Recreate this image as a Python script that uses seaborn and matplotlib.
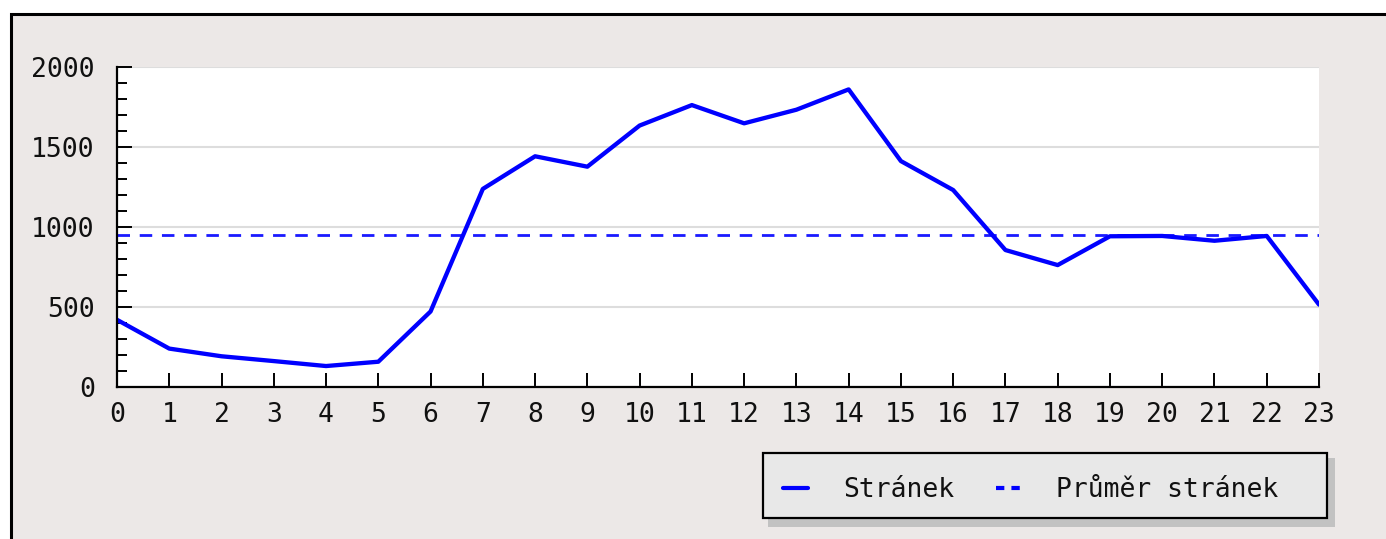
import matplotlib
matplotlib.use("Agg")
import matplotlib.pyplot as plt
import seaborn as sns
import pandas as pd
from matplotlib.patches import Rectangle
from matplotlib.lines import Line2D
from matplotlib.ticker import MultipleLocator

hours = list(range(24))
pages = [420, 240, 192, 162, 131, 158, 472, 1238, 1442, 1377, 1634, 1762,
         1648, 1733, 1860, 1412, 1231, 856, 762, 942, 944, 914, 944, 515]
avg_pages = 953
series_labels = ["Stránek", "Průměr stránek"]
y_ticks = [0, 500, 1000, 1500, 2000]

sns.set_theme(style="white")
plt.rcParams['font.family'] = ['DejaVu Sans Mono', 'DejaVu Sans']

W, H = 1386, 539
fig = plt.figure(figsize=(W / 100, H / 100), dpi=100, facecolor="white")

# outer panel with black top/left border
panel = Rectangle((10.5 / W, -0.05), 1.1, 1 - 13.5 / H + 0.05,
                  transform=fig.transFigure, facecolor="#ece8e7",
                  edgecolor="black", linewidth=2.2, zorder=0)
fig.add_artist(panel)

ax = fig.add_axes([117 / W, 1 - 387 / H, (1319 - 117) / W, (387 - 67) / H])
ax.set_facecolor("white")

df = pd.DataFrame({"hour": hours, "pages": pages})
sns.lineplot(data=df, x="hour", y="pages", ax=ax, color="#0000ff",
             linewidth=3.1, label=series_labels[0], legend=False, zorder=3)
ax.axhline(avg_pages, color="#1a1aff", linewidth=2.0,
           linestyle=(0, (4.5, 3.5)), zorder=2, label=series_labels[1])

ax.set_xlim(0, 23)
ax.set_ylim(0, 2000)
ax.set_xticks(hours)
ax.set_yticks(y_ticks)
ax.yaxis.set_minor_locator(MultipleLocator(100))
ax.set_xlabel("")
ax.set_ylabel("")

ax.grid(axis="y", which="major", color="#dddddd", linewidth=1.5, zorder=1)
ax.grid(axis="x", visible=False)
ax.set_axisbelow(True)

for s in ["top", "right"]:
    ax.spines[s].set_visible(False)
for s in ["left", "bottom"]:
    ax.spines[s].set_color("black")
    ax.spines[s].set_linewidth(1.6)
    ax.spines[s].set_zorder(4)

ax.tick_params(axis="y", which="major", direction="in", length=10.8, width=1.4,
               color="black", pad=16, labelsize=19, labelcolor="#111111", left=True)
ax.tick_params(axis="y", which="minor", direction="in", length=7.2, width=1.4,
               color="black", left=True)
ax.tick_params(axis="x", which="major", direction="in", length=10, width=1.4,
               color="black", pad=11, labelsize=19, labelcolor="#111111", bottom=True)

# legend frame with shadow
lx0, lx1, ly0, ly1 = 763, 1327, 453, 518
shadow = Rectangle((768 / W, 1 - 527 / H), (1335 - 768) / W, (527 - 458) / H,
                   transform=fig.transFigure, facecolor="#c2c2c2",
                   edgecolor="none", zorder=5)
box = Rectangle((lx0 / W, 1 - ly1 / H), (lx1 - lx0) / W, (ly1 - ly0) / H,
                transform=fig.transFigure, facecolor="#e8e8e8",
                edgecolor="black", linewidth=1.6, zorder=6)
fig.add_artist(shadow)
fig.add_artist(box)

handles = [Line2D([], [], color="#0000ff", linewidth=3.0),
           Line2D([], [], color="#0000ff", linewidth=3.0, linestyle=(0, (2.0, 1.7)))]
leg = fig.legend(handles, series_labels, loc="center left",
                 bbox_to_anchor=(783 / W, 1 - 490 / H), ncol=2,
                 frameon=False, fontsize=19,
                 handlelength=0.95, handletextpad=1.35, columnspacing=1.55,
                 borderpad=0, borderaxespad=0)
leg.set_zorder(7)
for t in leg.get_texts():
    t.set_color("#111111")

fig.savefig("out.png", dpi=100, facecolor=fig.get_facecolor())
